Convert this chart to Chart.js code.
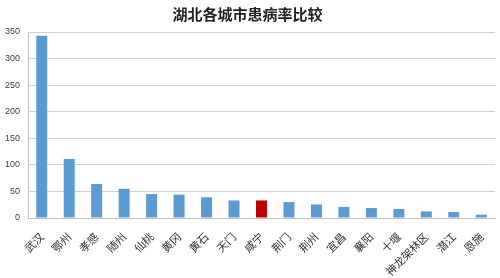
<!DOCTYPE html>
<html>
<head>
<meta charset="utf-8">
<script src="https://cdn.jsdelivr.net/npm/chart.js@4/dist/chart.umd.min.js"></script>
<style>
  html, body { margin: 0; padding: 0; background: #fff; }
  #wrap { width: 500px; height: 278px; }
</style>
</head>
<body>
<div id="wrap"><canvas id="myChart"></canvas></div>
<script>
const cities = ['武汉', '鄂州', '孝感', '随州', '仙桃', '黄冈', '黄石', '天门', '咸宁', '荆门', '荆州', '宜昌', '襄阳', '十堰', '神龙架林区', '潜江', '恩施'];
const rates = [343, 111, 64, 55, 45, 44, 39, 33, 33, 30, 25.5, 21, 18.7, 16.9, 12.4, 11.2, 6.2];
const highlight = '咸宁';
const yTicks = [0, 50, 100, 150, 200, 250, 300, 350];

let barColors = cities.map(c => c == highlight ? '#C00000' : '#5B9BD5');

var myChartObject = document.getElementById('myChart');
var chart = new Chart(myChartObject, {
    type: 'bar',
    data: {
        labels: cities,
        datasets: [{
            label: '患病率',
            data: rates,
            backgroundColor: barColors,
            borderWidth: 0,
            categoryPercentage: 0.8,
            barPercentage: 0.5
        }]
    },
    options: {
        responsive: true,
        maintainAspectRatio: false,
        animation: false,
        layout: { padding: { left: 0, right: 5, top: 5, bottom: 0 } },
        plugins: {
            legend: { display: false },
            tooltip: { enabled: false },
            title: {
                display: true,
                text: '湖北各城市患病率比较',
                color: '#222',
                font: { family: '"Noto Sans CJK SC"', size: 15, weight: 'bold' },
                padding: { top: 0, bottom: 9 }
            }
        },
        scales: {
            y: {
                min: 0,
                max: 350,
                afterBuildTicks: axis => { axis.ticks = yTicks.map(v => ({ value: v })); },
                afterFit: axis => { axis.width = 28; },
                grid: { color: '#d0d0d0', drawTicks: false },
                border: { display: true, color: '#bfbfbf' },
                ticks: {
                    color: '#404040',
                    padding: 8,
                    font: { family: 'Liberation Sans', size: 9 }
                }
            },
            x: {
                afterFit: axis => { axis.height = 60; },
                grid: { display: false },
                border: { display: true, color: '#bfbfbf' },
                ticks: {
                    minRotation: 45,
                    maxRotation: 45,
                    autoSkip: false,
                    color: '#333',
                    padding: 4,
                    font: { family: '"Noto Sans CJK SC"', size: 11 }
                }
            }
        }
    }
});
</script>
</body>
</html>
